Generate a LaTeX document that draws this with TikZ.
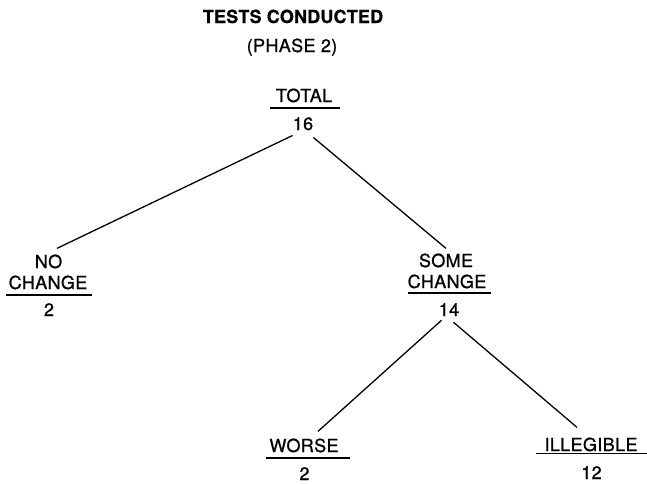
\documentclass[tikz,border=0pt]{standalone}
\usepackage{fontspec}
\setmainfont{TeX Gyre Heros}
\newfontfamily\labelfont[FakeBold=0.9,LetterSpace=2]{TeX Gyre Heros}
\newfontfamily\headfont[FakeBold=0.6,LetterSpace=1]{TeX Gyre Heros Bold}
\usepackage{tikz}
\tikzset{
	lbl/.style={font=\labelfont\fontsize{18}{20}\selectfont, inner sep=0pt, anchor=base},
	heading/.style={lbl, font=\headfont\fontsize{18}{20}\selectfont},
	rule/.style={line width=1.5pt},
	link/.style={line width=1.3pt}
}

\begin{document}
\begin{tikzpicture}[x=1pt,y=-1pt]
			\useasboundingbox (0,0) rectangle (647,483);
			% Heading
			\node[heading] (title) at (293,23) {TESTS CONDUCTED};
			\node[lbl] (phase) at (292,52) {(PHASE 2)};
			% Top of the tree
			\node[lbl] (total) at (304,102) {TOTAL};
			\draw[rule] (270,108) -- (340,108);
			\node[lbl] (n16) at (303,130) {16};
			% Second level
			\node[lbl] (no) at (48.5,268) {NO};
			\node[lbl] (nochg) at (48,289) {CHANGE};
			\draw[rule] (6,295) -- (92,295);
			\node[lbl] (n2a) at (49,316) {2};
			\node[lbl] (some) at (446,267) {SOME};
			\node[lbl] (somechg) at (447,288) {CHANGE};
			\draw[rule] (408,293) -- (491,293);
			\node[lbl] (n14) at (449,316) {14};
			% Third level
			\node[lbl] (worse) at (304,452) {WORSE};
			\draw[rule] (266,458) -- (350,458);
			\node[lbl] (n2b) at (304.5,480) {2};
			\node[lbl] (illeg) at (591,451) {ILLEGIBLE};
			\draw[rule] (536,453.5) -- (647,453.5);
			\node[lbl] (n12) at (591.5,479) {12};
			% Branches
			\draw[link] ([yshift=-5pt]n16.south west) -- ([xshift=8.5pt,yshift=6pt]no.north);
			\draw[link] ([yshift=-7pt]n16.south east) -- ([yshift=5pt]some.north);
			\draw[link] ([xshift=3pt,yshift=-4pt]n14.south west) -- ([xshift=14pt,yshift=7pt]worse.north);
			\draw[link] ([xshift=-6pt,yshift=-6pt]n14.south east) -- ([xshift=-14pt,yshift=10pt]illeg.north);
		\end{tikzpicture}
\end{document}
